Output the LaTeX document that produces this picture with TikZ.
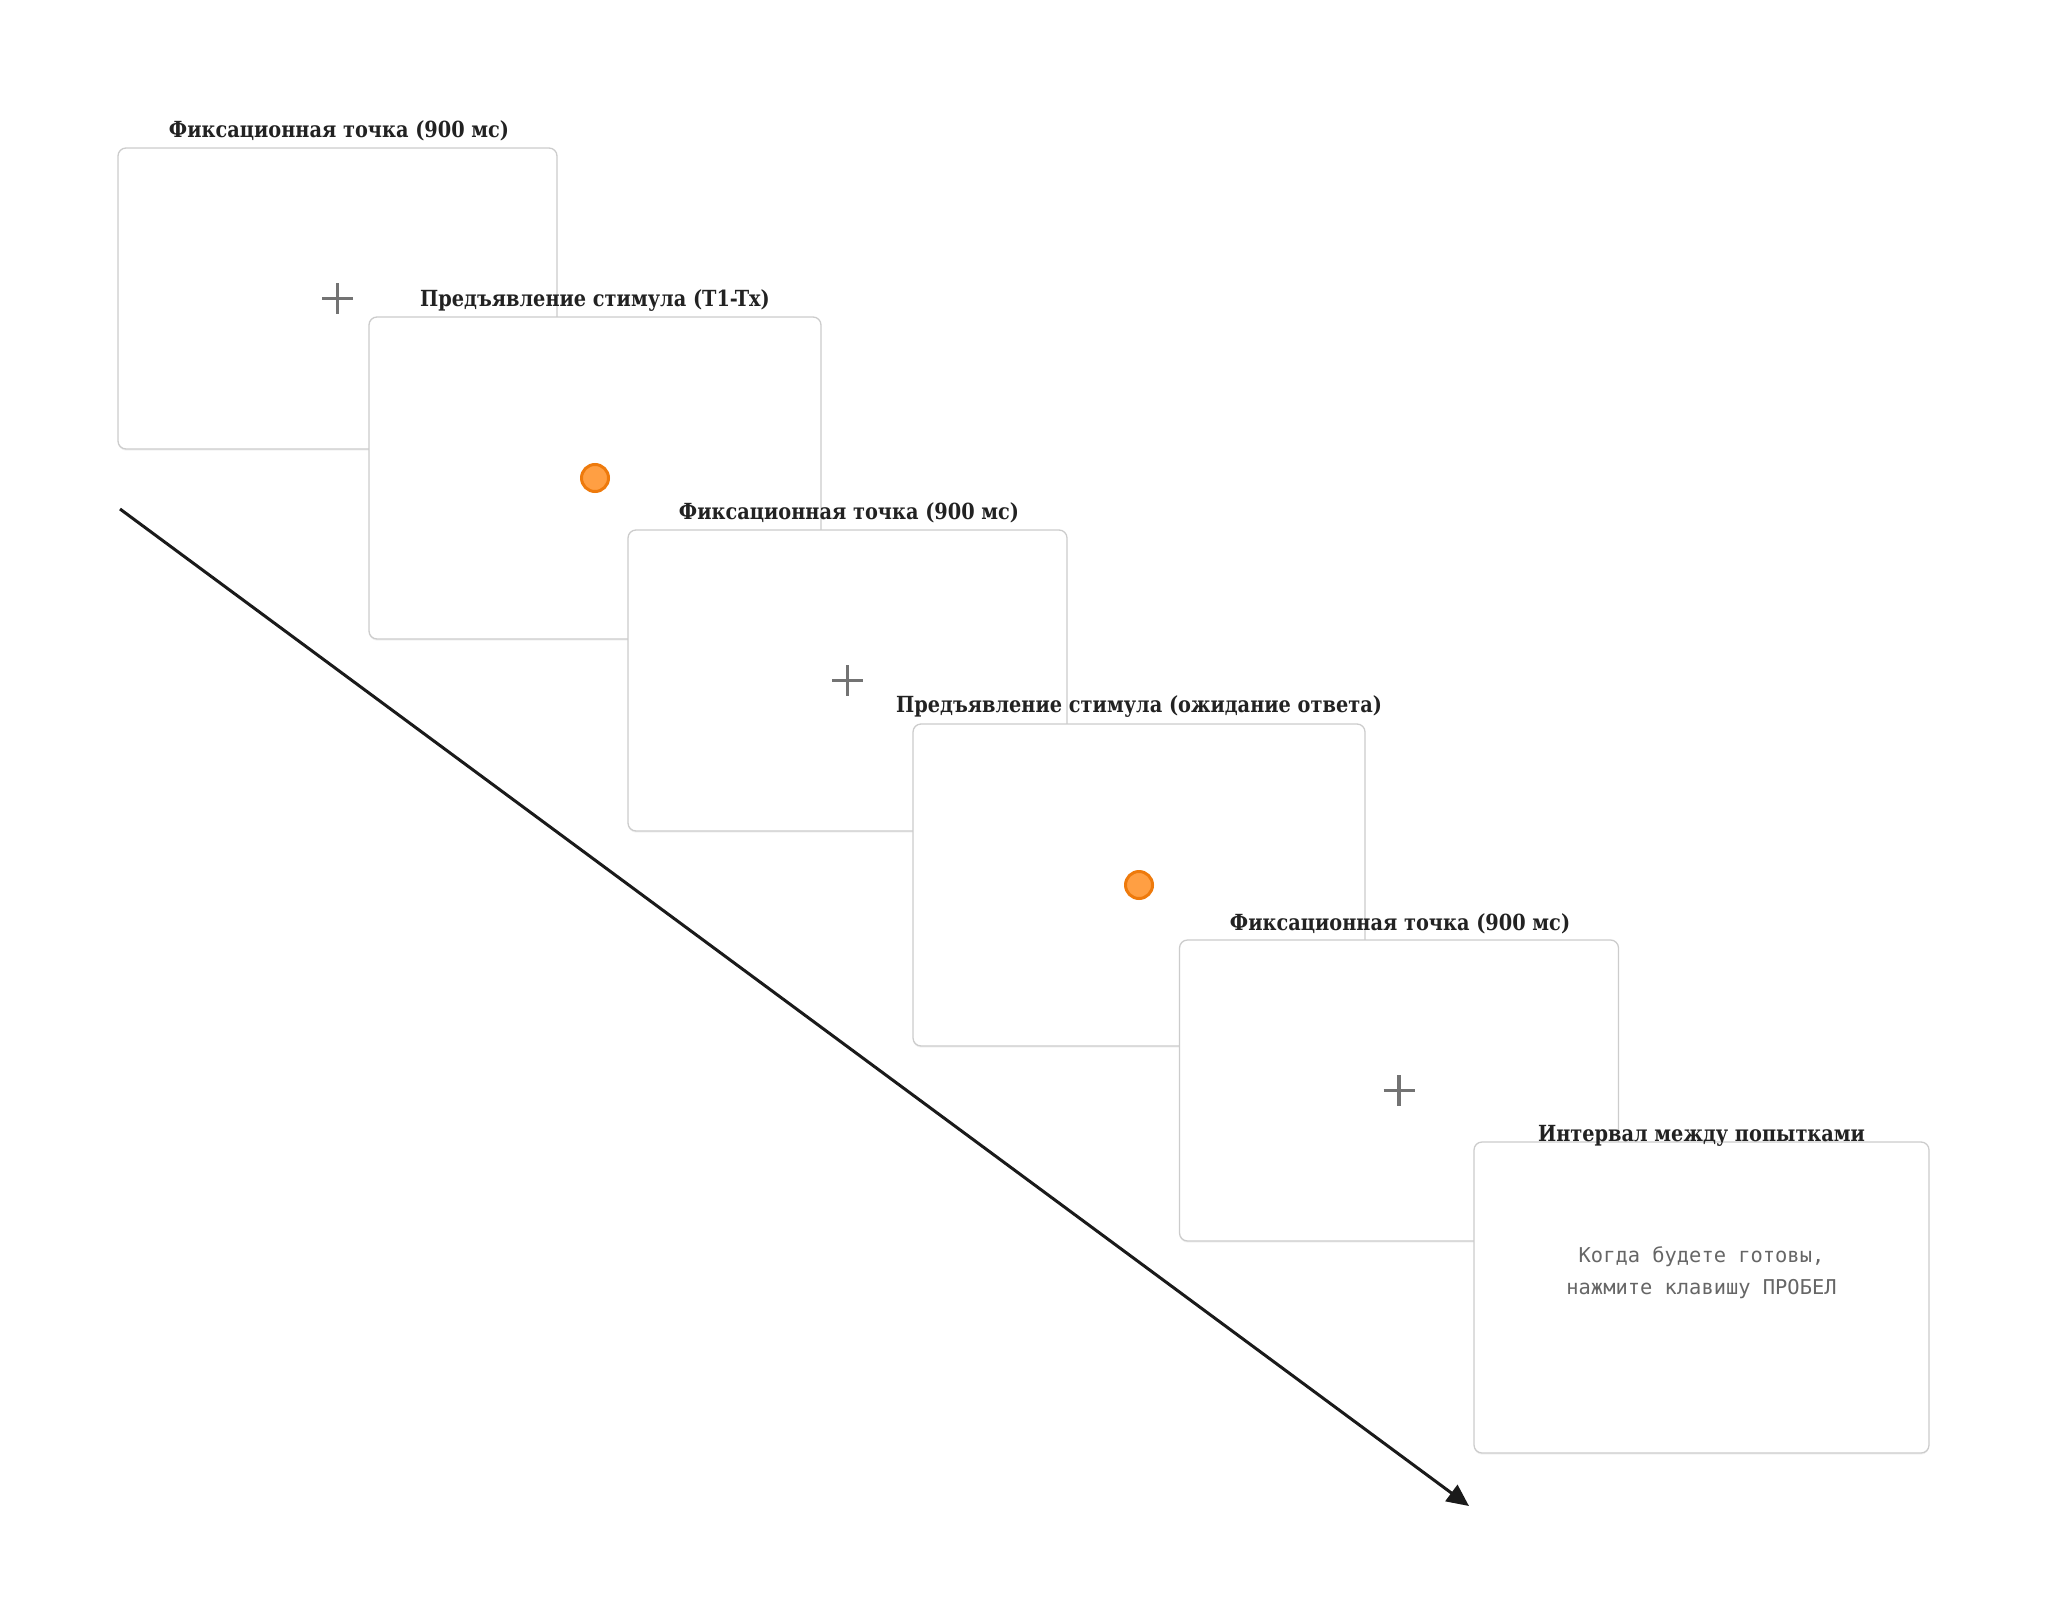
\documentclass[tikz,border=0pt]{standalone}
\usepackage{fontspec}
\setmainfont[FakeStretch=0.87]{DejaVu Serif}
\newfontfamily\monofnt{DejaVu Sans Mono}
\usetikzlibrary{arrows.meta,shadows}
\definecolor{boxline}{HTML}{CCCCCC}
\definecolor{titlecol}{HTML}{222222}
\definecolor{crosscol}{HTML}{737373}
\definecolor{dotfill}{HTML}{FF9F43}
\definecolor{dotline}{HTML}{EE7A0C}
\definecolor{monocol}{HTML}{666666}
\definecolor{arrowcol}{HTML}{1A1A1A}
\tikzset{
  screen/.style={draw=boxline, line width=0.65pt, fill=white, rounded corners=4pt,
    drop shadow={shadow xshift=0pt, shadow yshift=-0.8pt, opacity=0.10}},
  smallscreen/.style={screen, minimum width=219.5pt, minimum height=150.5pt},
  bigscreen/.style={screen, minimum width=226pt, minimum height=161pt},
  ttl/.style={text=titlecol, font=\bfseries\fontsize{11.1}{13}\selectfont, inner sep=0pt},
  crossline/.style={draw=crosscol, line width=1.6pt},
  dot/.style={circle, fill=dotfill, draw=dotline, line width=1.5pt, minimum size=13.5pt, inner sep=0pt},
  monotxt/.style={text=monocol, font=\monofnt\fontsize{10.2}{16}\selectfont, align=center, inner sep=0pt},
  timearrow/.style={draw=arrowcol, line width=1.5pt, -{Triangle[length=11pt,width=10pt]}}
}
\begin{document}
\begin{tikzpicture}[x=0.5pt,y=-0.5pt]
\useasboundingbox (0,0) rectangle (2048,1621);
% box 1
\node[smallscreen] (b1) at (337.5,298.5) {};
\draw[crossline] (322,298.5) -- (353,298.5) (337.5,283) -- (337.5,314);
\node[ttl] (t1) at (339,131) {Фиксационная точка (900 мс)};
% box 2
\node[bigscreen] (b2) at (595,478) {};
\node[dot] (d2) at (595,478) {};
\node[ttl] (t2) at (595,301) {Предъявление стимула (T1-Tx)};
% box 3
\node[smallscreen] (b3) at (847.5,680.5) {};
\draw[crossline] (832,680.5) -- (863,680.5) (847.5,665) -- (847.5,696);
\node[ttl] (t3) at (849,513) {Фиксационная точка (900 мс)};
% box 4
\node[bigscreen] (b4) at (1139,885) {};
\node[dot] (d4) at (1139,885) {};
\node[ttl] (t4) at (1139,707) {Предъявление стимула (ожидание ответа)};
% box 5
\node[smallscreen] (b5) at (1399,1090.5) {};
\draw[crossline] (1383.5,1090.5) -- (1414.5,1090.5) (1399,1075) -- (1399,1106);
\node[ttl] (t5) at (1400,924) {Фиксационная точка (900 мс)};
% box 6
\node[screen, minimum width=227.5pt, minimum height=155.5pt] (b6) at (1701.5,1297.5) {};
\node[ttl] (t6) at (1701.5,1136) {Интервал между попытками};
\node[monotxt] (m6) at (1701.5,1273) {Когда будете готовы,\\нажмите клавишу ПРОБЕЛ};
% time arrow
\coordinate (as) at (120,509);
\coordinate (ae) at (1469,1506);
\draw[timearrow] (as) -- (ae);
\end{tikzpicture}
\end{document}
